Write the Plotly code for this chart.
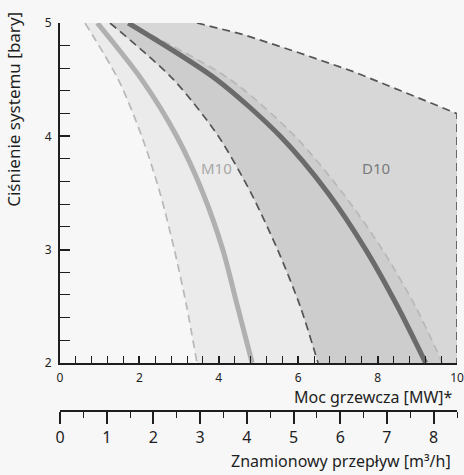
import plotly.graph_objects as go

# ---- data ----
y_levels = [5.0, 4.5, 4.0, 3.5, 3.0, 2.5, 2.0]          # Ciśnienie systemu [bary]
m10_low = [0.63, 1.47, 2.06, 2.52, 2.88, 3.19, 3.45]    # MW, lower bound M10
m10_mid = [0.94, 2.06, 2.94, 3.60, 4.10, 4.47, 4.84]    # MW, nominal M10
m10_high = [1.72, 4.29, 5.92, 7.12, 8.12, 8.95, 9.63]   # MW, upper bound M10
d10_low = [1.26, 2.86, 3.99, 4.81, 5.48, 6.05, 6.50]    # MW, lower bound D10
d10_mid = [1.72, 3.95, 5.55, 6.75, 7.70, 8.50, 9.21]    # MW, nominal D10
d10_high_x = [3.45, 4.6, 6.0, 7.4, 8.6, 10.0, 10.0]     # MW, upper bound D10
d10_high_y = [5.0, 4.9, 4.74, 4.57, 4.40, 4.20, 2.0]

series_names = ["M10", "D10"]
label_x = [3.95, 7.97]
label_y = [3.72, 3.72]

mw_ticks = [0, 2, 4, 6, 8, 10]
bar_ticks = [2, 3, 4, 5]
flow_ticks = [0, 1, 2, 3, 4, 5, 6, 7, 8]

BG = "#f7f7f7"
FONT = "Noto Sans"
AX = "#1e1e1e"
SMOOTH = 0.8

fig = go.Figure()

def fill_pair(xa, ya, xb, yb, color, shape_a="spline", shape_b="spline"):
    fig.add_trace(go.Scatter(x=xa, y=ya, mode="lines",
                             line=dict(width=0, shape=shape_a, smoothing=SMOOTH),
                             hoverinfo="skip", showlegend=False))
    fig.add_trace(go.Scatter(x=xb, y=yb, mode="lines",
                             line=dict(width=0, shape=shape_b, smoothing=SMOOTH),
                             fill="tonextx", fillcolor=color, hoverinfo="skip", showlegend=False))

# M10 band
fill_pair(m10_low, y_levels, m10_high, y_levels, "#ebebeb")
# D10 band
fill_pair(d10_low, y_levels, d10_high_x, d10_high_y, "#d7d7d7", shape_b="linear")
# overlap
fill_pair(d10_low, y_levels, m10_high, y_levels, "#cdcdcd")

def line(x, y, color, width, dash=None, shape="spline"):
    fig.add_trace(go.Scatter(x=x, y=y, mode="lines",
                             line=dict(color=color, width=width, dash=dash, shape=shape,
                                       smoothing=SMOOTH),
                             hoverinfo="skip", showlegend=False))

line(m10_low, y_levels, "#b8b8b8", 1.7, "8px,5px")
line(m10_high, y_levels, "#b8b8b8", 1.7, "8px,5px")
line(d10_low, y_levels, "#555555", 1.7, "8px,5px")
line(d10_high_x, d10_high_y, "#555555", 1.7, "8px,5px", shape="linear")
line(m10_mid, y_levels, "#b0b0b0", 5)
line(d10_mid, y_levels, "#6b6b6b", 5)

# invisible trace for the flow axis
fig.add_trace(go.Scatter(x=[flow_ticks[0], flow_ticks[-1]], y=[bar_ticks[0], bar_ticks[0]],
                         xaxis="x2", yaxis="y", mode="lines", line=dict(width=0),
                         hoverinfo="skip", showlegend=False))

for name, lx, ly, c in zip(series_names, label_x, label_y, ["#a8a8a8", "#7a7a7a"]):
    fig.add_annotation(x=lx, y=ly, text=name, showarrow=False,
                       font=dict(family=FONT, size=15, color=c))

ydom0 = 0.124
fig.update_layout(
    width=464, height=475,
    margin=dict(l=60, r=7, t=23, b=64, autoexpand=False),
    paper_bgcolor=BG, plot_bgcolor=BG,
    font=dict(family=FONT, color=AX),
    xaxis=dict(range=[0, 10], tickvals=mw_ticks, showgrid=False, zeroline=False,
               automargin=False,
               showline=True, linecolor=AX, linewidth=2, ticks="inside", ticklen=7,
               tickwidth=2, tickcolor=AX, tickfont=dict(size=12, family=FONT),
               anchor="y", ticklabelstandoff=3,
               minor=dict(dtick=0.4, ticks="inside", ticklen=7, tickwidth=1.2, tickcolor=AX)),
    yaxis=dict(range=[2, 5], tickvals=bar_ticks, showgrid=False, zeroline=False,
               domain=[ydom0, 1], automargin=False,
               showline=True, linecolor=AX, linewidth=2, ticks="inside", ticklen=10,
               tickwidth=2, tickcolor=AX, tickfont=dict(size=12, family=FONT),
               ticklabelstandoff=4,
               minor=dict(dtick=0.2, ticks="inside", ticklen=10, tickwidth=1.2, tickcolor=AX)),
    xaxis2=dict(range=[0, 8.5], tickvals=flow_ticks, overlaying="x", anchor="free",
                position=0, side="bottom", showgrid=False, zeroline=False, automargin=False,
                showline=True, linecolor=AX, linewidth=2, ticks="outside", ticklen=12,
                tickwidth=2, tickcolor=AX, tickfont=dict(size=16, family=FONT),
                ticklabelstandoff=0,
                minor=dict(dtick=0.5, ticks="outside", ticklen=6, tickwidth=1.2, tickcolor=AX)),
)

fig.add_annotation(xref="paper", yref="paper", x=0.995, y=0.035, xanchor="right",
                   yanchor="middle", text="Moc grzewcza [MW]*", showarrow=False,
                   font=dict(family=FONT, size=16, color=AX))
fig.add_annotation(xref="paper", yref="paper", x=0.99, y=-0.128, xanchor="right",
                   yanchor="middle", text="Znamionowy przepływ [m³/h]", showarrow=False,
                   font=dict(family=FONT, size=16, color=AX))
fig.add_annotation(xref="paper", yref="paper", x=-0.116, y=1.035, xanchor="center",
                   yanchor="top", textangle=-90, text="Ciśnienie systemu [bary]",
                   showarrow=False, font=dict(family=FONT, size=17, color=AX))

fig.write_html("out.html")
